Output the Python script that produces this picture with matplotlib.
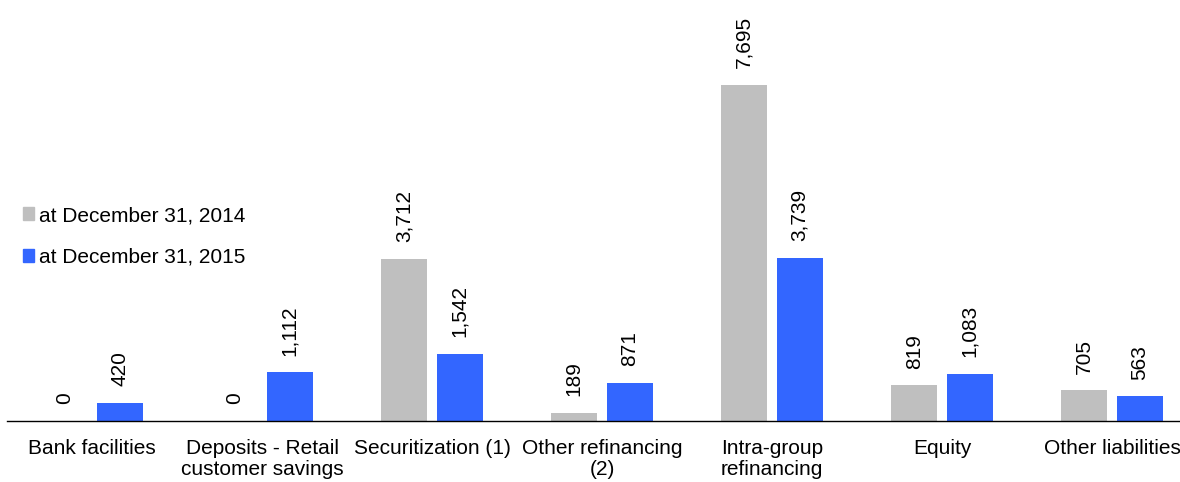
import matplotlib
matplotlib.use("Agg")
import matplotlib.pyplot as plt
import numpy as np
from matplotlib.patches import Patch

plt.rcParams['font.family'] = ['Liberation Sans', 'DejaVu Sans']

categories = ["Bank facilities", "Deposits - Retail\ncustomer savings", "Securitization (1)",
              "Other refinancing\n(2)", "Intra-group\nrefinancing", "Equity", "Other liabilities"]
values_2014 = [0, 0, 3712, 189, 7695, 819, 705]
values_2015 = [420, 1112, 1542, 871, 3739, 1083, 563]
series_labels = ["at December 31, 2014", "at December 31, 2015"]
colors = ["#bfbfbf", "#3366ff"]

W, H = 1180, 482
fs = 15
fig = plt.figure(figsize=(W / 100, H / 100), dpi=100)
# axes in pixel units: left edge 7, baseline at y=421, 170 px per category
left, bottom, width, height = 7, H - 421, 1190, 421
ax = fig.add_axes([left / W, bottom / H, width / W, height / H])

x = np.arange(len(categories))
bw = 0.27
off = 0.163
ymax = 421 / (336 / 7695)

bars1 = ax.bar(x - off, values_2014, bw, color=colors[0])
bars2 = ax.bar(x + off, values_2015, bw, color=colors[1])

for bars, vals in ((bars1, values_2014), (bars2, values_2015)):
    for b, v in zip(bars, vals):
        ax.annotate(f"{v:,}", (b.get_x() + b.get_width() / 2, v),
                    xytext=(0, 12), textcoords="offset points",
                    rotation=90, ha="center", va="bottom", fontsize=fs)

ax.set_xlim(-0.5, len(categories) - 0.5)
ax.set_ylim(0, ymax)
ax.set_yticks([])
ax.set_xticks(x)
ax.set_xticklabels(categories, fontsize=fs, linespacing=1.15)
ax.tick_params(axis="x", length=0, pad=13)
for s in ("top", "right", "left"):
    ax.spines[s].set_visible(False)
ax.spines["bottom"].set_linewidth(1.0)

handles = [Patch(color=c, label=l) for c, l in zip(colors, series_labels)]
fig.legend(handles=handles, loc="upper left", bbox_to_anchor=(23 / W, 1 - 206 / H),
           frameon=False, fontsize=fs, handlelength=0.53, handleheight=0.53,
           handletextpad=0.25, labelspacing=1.1, borderaxespad=0, borderpad=0)

fig.savefig("out.png", dpi=100)
